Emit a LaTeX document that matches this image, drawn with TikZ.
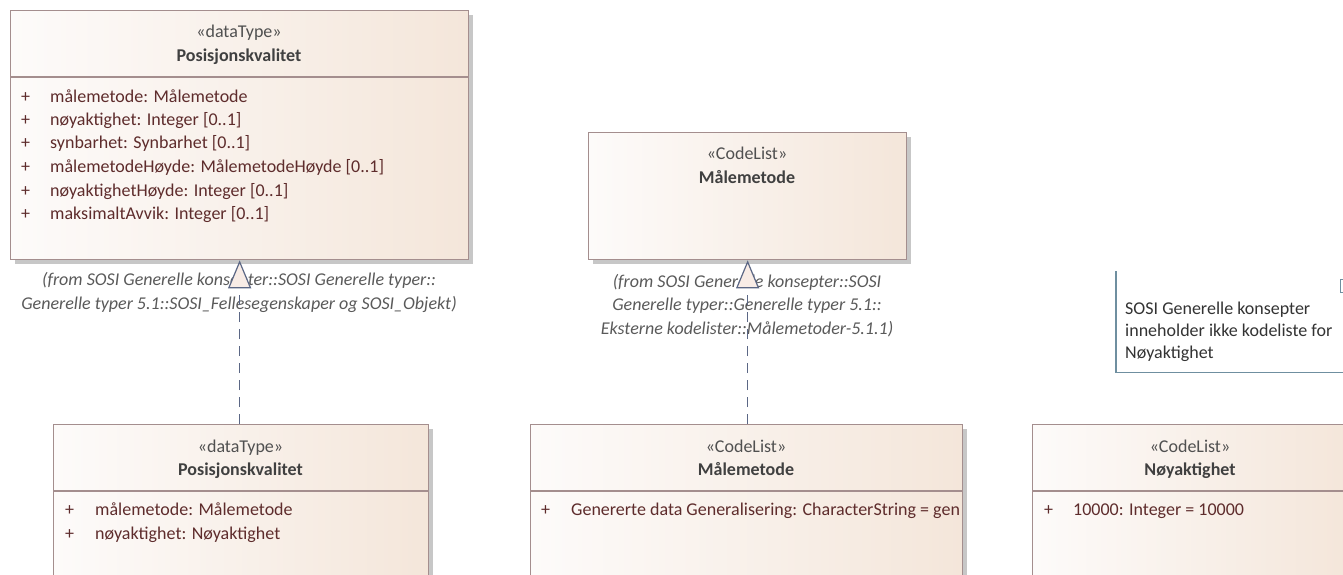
\documentclass[tikz,border=0pt]{standalone}
\usepackage{fontspec}
\setmainfont{Carlito}
\usetikzlibrary{arrows.meta,shadows}

\definecolor{boxline}{HTML}{A48E8E}
\definecolor{boxleft}{HTML}{FDFBFA}
\definecolor{boxright}{HTML}{F4E6DA}
\definecolor{attrcol}{HTML}{5E2C2C}
\definecolor{stereocol}{HTML}{505050}
\definecolor{namecol}{HTML}{404040}
\definecolor{fromcol}{HTML}{5A5A5A}
\definecolor{linkcol}{HTML}{5B6785}
\definecolor{notecol}{HTML}{6F8FA0}
\definecolor{notetext}{HTML}{333333}
\definecolor{trifill}{HTML}{F8ECE6}

\tikzset{
  umlbox/.style={draw=boxline, line width=1.3pt, left color=boxleft, right color=boxright,
    anchor=north west, inner sep=0pt,
    drop shadow={shadow xshift=4pt, shadow yshift=-4pt, fill=black!22, opacity=1}},
  sepline/.style={draw=boxline, line width=1.3pt},
  txt/.style={inner sep=0pt, text height=13pt, text depth=4pt, font=\fontsize{18}{22}\selectfont},
  stereo/.style={txt, text=stereocol},
  cname/.style={txt, text=namecol, font=\fontsize{18}{22}\selectfont\bfseries},
  attr/.style={txt, text=attrcol, anchor=west},
  fromlbl/.style={inner sep=0pt, align=center, text=fromcol,
    font=\fontsize{18}{23.5}\selectfont\itshape},
  notelbl/.style={inner sep=0pt, align=left, text=notetext, anchor=north west,
    font=\fontsize{18}{22}\selectfont},
  realize/.style={draw=linkcol, line width=1.2pt, dash pattern=on 10pt off 7pt,
    -{Triangle[width=23pt,length=28pt,fill=trifill]}},
}

\begin{document}
\begin{tikzpicture}[x=1pt,y=-1pt]
\useasboundingbox (0,0) rectangle (1343,575);
\fill[white] (0,0) rectangle (1343,575);
\clip (0,0) rectangle (1343,575);

% upper classes
\node[umlbox, minimum width=458pt, minimum height=249pt] (pk) at (10,10) {};
\draw[sepline] (10,77) -- (468,77);
\node[stereo] (pk-st) at (239,33) {«dataType»};
\node[cname] (pk-nm) at (239,57) {Posisjonskvalitet};
\foreach \y/\t [count=\i] in {98/{målemetode: Målemetode},
    121/{nøyaktighet: Integer [0..1]},
    144/{synbarhet: Synbarhet [0..1]},
    168/{målemetodeHøyde: MålemetodeHøyde [0..1]},
    192/{nøyaktighetHøyde: Integer [0..1]},
    215/{maksimaltAvvik: Integer [0..1]}} {
  \node[attr] (pk-v\i) at (21,\y) {+};
  \node[attr] (pk-a\i) at (50,\y) {\t};
}

\node[umlbox, minimum width=318pt, minimum height=127pt] (ml) at (588,132) {};
\node[stereo] (ml-st) at (747,155) {«CodeList»};
\node[cname] (ml-nm) at (747,179) {Målemetode};

% package origin labels
\node[fromlbl] (pk-from) at (239,292.5) {(from SOSI Generelle konsepter::SOSI Generelle typer::\\Generelle typer 5.1::SOSI\_Fellesegenskaper og SOSI\_Objekt)};
\node[fromlbl] (ml-from) at (747,305.5) {(from SOSI Generelle konsepter::SOSI\\Generelle typer::Generelle typer 5.1::\\Eksterne kodelister::Målemetoder-5.1.1)};

% note
\node[notelbl, minimum width=227pt, minimum height=101pt, text width=215pt] (note) at (1116,271) {};
\node[notelbl] (note-t) at (1125,302) {SOSI Generelle konsepter\\inneholder ikke kodeliste for\\Nøyaktighet};
\draw[notecol, line width=1.2pt] (note.north west) -- (note.south west) -- (note.south east);
\draw[notecol, line width=1pt] (1344,279.5) -- (1340,279.5) -- (1340,292) -- (1344,292);

% lower classes
\node[umlbox, minimum width=375pt, minimum height=200pt] (pkb) at (53,424) {};
\draw[sepline] (53,491) -- (428,491);
\node[stereo] (pkb-st) at (240.5,448) {«dataType»};
\node[cname] (pkb-nm) at (240.5,471) {Posisjonskvalitet};
\node[attr] (pkb-v1) at (65,511) {+};
\node[attr] (pkb-a1) at (95,511) {målemetode: Målemetode};
\node[attr] (pkb-v2) at (65,535) {+};
\node[attr] (pkb-a2) at (95,535) {nøyaktighet: Nøyaktighet};

\node[umlbox, minimum width=432pt, minimum height=200pt] (mlb) at (530,424) {};
\draw[sepline] (530,491) -- (962,491);
\node[stereo] (mlb-st) at (746,448) {«CodeList»};
\node[cname] (mlb-nm) at (746,471) {Målemetode};
\node[attr] (mlb-v1) at (541,511) {+};
\node[attr] (mlb-a1) at (571,511) {Genererte data Generalisering: CharacterString = gen};

\node[umlbox, minimum width=316pt, minimum height=200pt] (ny) at (1032,424) {};
\draw[sepline] (1032,491) -- (1350,491);
\node[stereo] (ny-st) at (1190,448) {«CodeList»};
\node[cname] (ny-nm) at (1190,471) {Nøyaktighet};
\node[attr] (ny-v1) at (1044,511) {+};
\node[attr] (ny-a1) at (1073,511) {10000: Integer = 10000};

% realizations
\draw[realize] (pkb.north -| pk.south) -- (pk.south);
\draw[realize] (mlb.north -| ml.south) -- (ml.south);
\end{tikzpicture}
\end{document}
